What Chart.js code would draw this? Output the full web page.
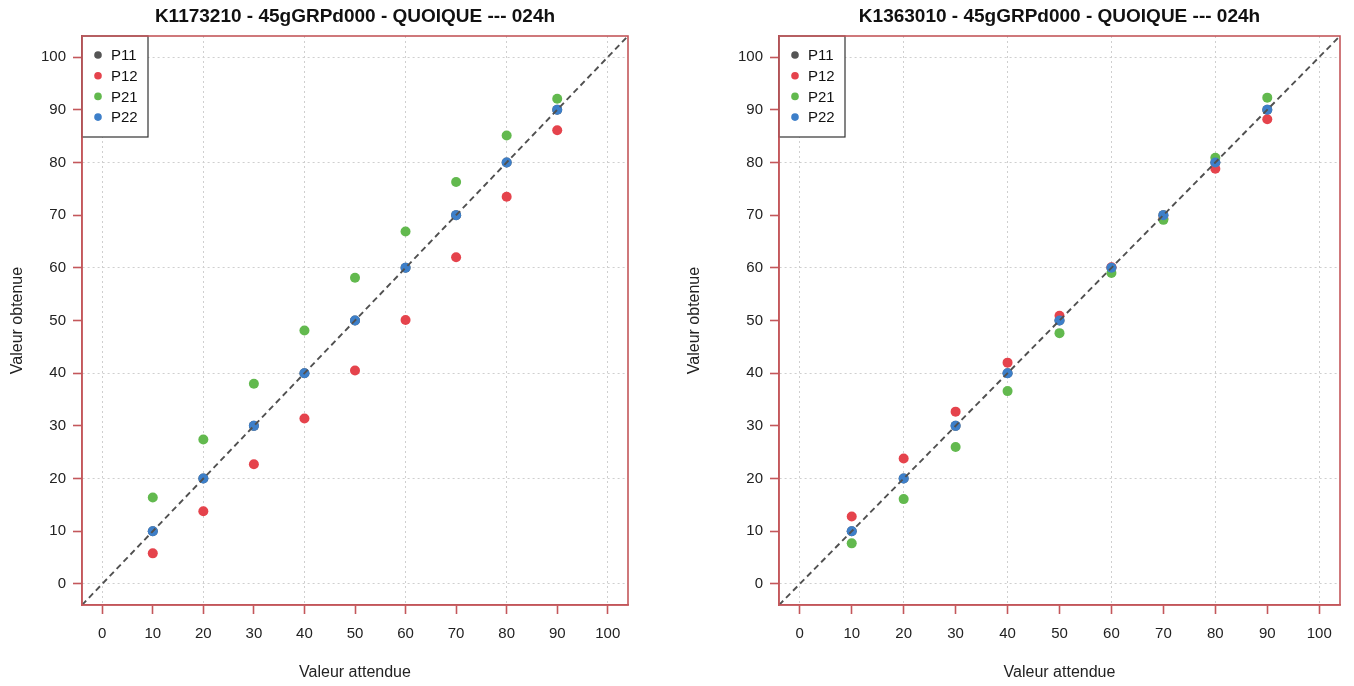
<!DOCTYPE html>
<html>
<head>
<meta charset="utf-8">
<script src="https://cdn.jsdelivr.net/npm/chart.js@4.4.1/dist/chart.umd.min.js"></script>
<style>
  body { margin: 0; background: #fff; }
  .wrap { display: flex; width: 1354px; height: 686px; }
  .cell { position: relative; width: 677px; height: 686px; }
</style>
</head>
<body>
<div class="wrap">
  <div class="cell"><canvas id="left"></canvas></div>
  <div class="cell"><canvas id="right"></canvas></div>
</div>
<script>
// expected values (x) and tick labels
const expected = [10, 20, 30, 40, 50, 60, 70, 80, 90];
const axisTicks = [0, 10, 20, 30, 40, 50, 60, 70, 80, 90, 100];
const seriesNames = ['P11', 'P12', 'P21', 'P22'];
const seriesColors = ['#555555', '#e5434c', '#62b94e', '#3d7fc9'];

// K1173210
const leftP11 = [10, 20, 30, 40, 50, 60, 70, 80, 90];
const leftP12 = [5.8, 13.8, 22.7, 31.4, 40.5, 50.1, 62, 73.5, 86.1];
const leftP21 = [16.4, 27.4, 38, 48.1, 58.1, 66.9, 76.3, 85.1, 92.1];
const leftP22 = [10, 20, 30, 40, 50, 60, 70, 80, 90];

// K1363010
const rightP11 = [10, 20, 30, 40, 50, 60, 70, 80, 90];
const rightP12 = [12.8, 23.8, 32.7, 42, 50.9, 60.1, 69.3, 78.8, 88.2];
const rightP21 = [7.7, 16.1, 26, 36.6, 47.6, 59, 69.1, 80.9, 92.3];
const rightP22 = [10, 20, 30, 40, 50, 60, 70, 80, 90];

const RED = '#c4575b';
const FONT = '"Liberation Sans", Arial, sans-serif';

function pts(ys) {
  return expected.map((x, i) => ({x: x, y: ys[i]}));
}

function make_chart(id, title, series, area) {
  const W = 677, H = 686;
  const el = document.getElementById(id);
  el.width = W; el.height = H;

  const datasets = series.map((ys, i) => ({
    label: seriesNames[i],
    data: pts(ys),
    backgroundColor: seriesColors[i],
    borderColor: seriesColors[i],
    pointRadius: 5,
    pointBorderWidth: 0,
    order: 4 - i
  }));
  datasets.push({
    label: 'y = x',
    type: 'line',
    data: [{x: -4, y: -4}, {x: 104, y: 104}],
    borderColor: '#505050',
    borderWidth: 1.9,
    borderDash: [6, 4],
    pointRadius: 0,
    order: 0
  });

  const gridColor = ctx => (ctx.tick && ctx.tick.value % 20 === 0) ? '#cfcfcf' : 'rgba(0,0,0,0)';

  const frame = {
    id: 'frame',
    afterDraw(chart) {
      const c = chart.ctx, a = chart.chartArea;
      // legend box
      c.save();
      c.fillStyle = '#fff';
      c.fillRect(a.left, a.top, 66, 101);
      c.strokeStyle = '#333';
      c.lineWidth = 1.2;
      c.strokeRect(a.left, a.top, 66, 101);
      c.font = '15px ' + FONT;
      c.textBaseline = 'middle';
      seriesNames.forEach((n, i) => {
        const y = a.top + 19 + i * 20.7;
        c.fillStyle = seriesColors[i];
        c.beginPath();
        c.arc(a.left + 16, y, 3.8, 0, Math.PI * 2);
        c.fill();
        c.fillStyle = '#111';
        c.fillText(n, a.left + 29, y + 1);
      });
      // plot box
      c.strokeStyle = RED;
      c.lineWidth = 1.6;
      c.strokeRect(a.left, a.top, a.right - a.left, a.bottom - a.top);
      // title
      c.fillStyle = '#111';
      c.font = 'bold 19px ' + FONT;
      c.textAlign = 'center';
      c.textBaseline = 'middle';
      c.fillText(title, (a.left + a.right) / 2, 17);
      c.restore();
    }
  };

  return new Chart(el, {
    type: 'scatter',
    data: {datasets: datasets},
    plugins: [frame],
    options: {
      responsive: false,
      animation: false,
      layout: {padding: {top: area.top, right: W - area.right, bottom: 0, left: 0}},
      plugins: {legend: {display: false}, tooltip: {enabled: false}},
      scales: {
        x: {
          type: 'linear',
          min: -4,
          max: 104,
          afterBuildTicks: s => { s.ticks = axisTicks.map(v => ({value: v})); },
          afterFit: s => { s.height = H - area.bottom; },
          grid: {color: gridColor, lineWidth: 1, tickColor: RED, tickLength: 9, tickWidth: 1.6},
          border: {color: RED, width: 1.6, dash: [2, 3]},
          ticks: {color: '#222', padding: 11, font: {size: 15, family: FONT}, maxRotation: 0, autoSkip: false},
          title: {display: true, text: 'Valeur attendue', color: '#222', padding: {top: 0, bottom: 4}, font: {size: 16, family: FONT}}
        },
        y: {
          type: 'linear',
          min: -4,
          max: 104,
          afterBuildTicks: s => { s.ticks = axisTicks.map(v => ({value: v})); },
          afterFit: s => { s.width = area.left; },
          grid: {color: gridColor, lineWidth: 1, tickColor: RED, tickLength: 9, tickWidth: 1.6},
          border: {color: RED, width: 1.6, dash: [2, 3]},
          ticks: {color: '#222', padding: 7, font: {size: 15, family: FONT}, autoSkip: false},
          title: {display: true, text: 'Valeur obtenue', color: '#222', padding: {top: 8, bottom: 0}, font: {size: 16, family: FONT}}
        }
      }
    }
  });
}

make_chart('left', 'K1173210 - 45gGRPd000 - QUOIQUE --- 024h',
  [leftP11, leftP12, leftP21, leftP22], {left: 82, right: 628, top: 36, bottom: 605});
make_chart('right', 'K1363010 - 45gGRPd000 - QUOIQUE --- 024h',
  [rightP11, rightP12, rightP21, rightP22], {left: 102, right: 663, top: 36, bottom: 605});
</script>
</body>
</html>
